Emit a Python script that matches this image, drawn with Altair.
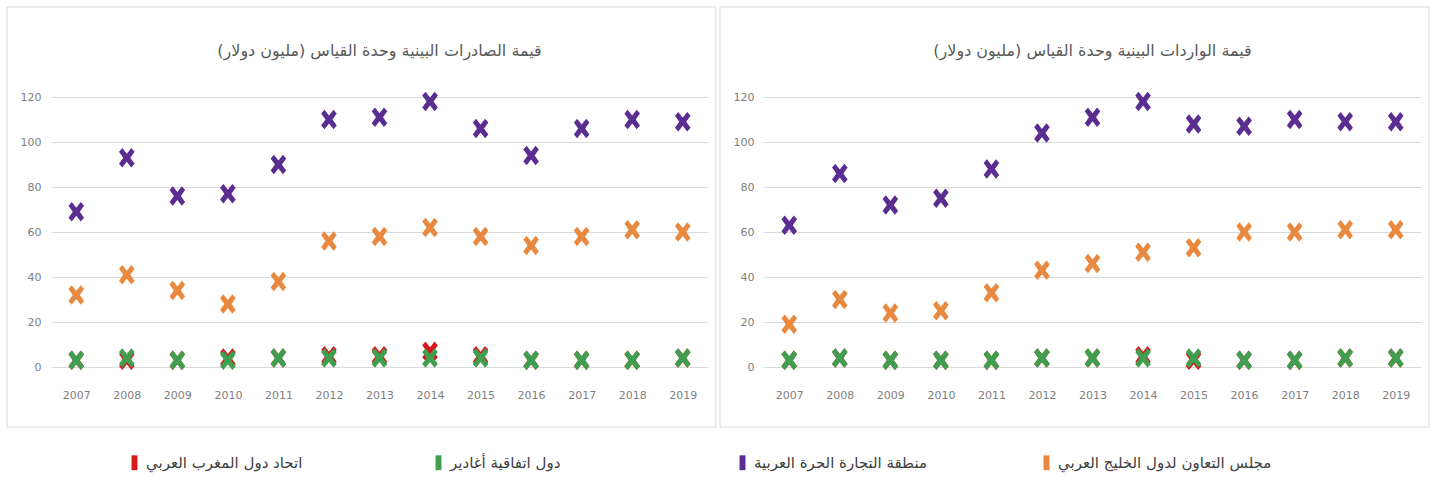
import altair as alt
import pandas as pd

# Years on the category axis
years = ["2007", "2008", "2009", "2010", "2011", "2012", "2013",
         "2014", "2015", "2016", "2017", "2018", "2019"]

# Series names (legend order, left to right)
s_amu = "اتحاد دول المغرب العربي"
s_agadir = "دول اتفاقية أغادير"
s_gafta = "منطقة التجارة الحرة العربية"
s_gcc = "مجلس التعاون لدول الخليج العربي"
series_names = [s_amu, s_agadir, s_gafta, s_gcc]
series_colors = ["#d7191c", "#3f9f4f", "#5b2d90", "#e8893f"]

# Intra-regional exports (million USD)
exp_gafta = [69, 93, 76, 77, 90, 110, 111, 118, 106, 94, 106, 110, 109]
exp_gcc = [32, 41, 34, 28, 38, 56, 58, 62, 58, 54, 58, 61, 60]
exp_amu = [3, 3, 3, 4, 4, 5, 5, 7, 5, 3, 3, 3, 4]
exp_agadir = [3, 4, 3, 3, 4, 4, 4, 4, 4, 3, 3, 3, 4]

# Intra-regional imports (million USD)
imp_gafta = [63, 86, 72, 75, 88, 104, 111, 118, 108, 107, 110, 109, 109]
imp_gcc = [19, 30, 24, 25, 33, 43, 46, 51, 53, 60, 60, 61, 61]
imp_amu = [3, 4, 3, 3, 3, 4, 4, 5, 3, 3, 3, 4, 4]
imp_agadir = [3, 4, 3, 3, 3, 4, 4, 4, 4, 3, 3, 4, 4]

title_exp = "قيمة الصادرات البينية وحدة القياس (مليون دولار)"
title_imp = "قيمة الواردات البينية وحدة القياس (مليون دولار)"

FONT = "DejaVu Sans"
W, H = 657, 270

# bold "x" marker, slightly taller than wide
X_PATH = ("M-0.8,-0.62 L-0.46,-1 L0,-0.42 L0.46,-1 L0.8,-0.62 L0.36,0 "
          "L0.8,0.62 L0.46,1 L0,0.42 L-0.46,1 L-0.8,0.62 L-0.36,0 Z")


def long_table(gafta, gcc, amu, agadir):
    rows = []
    # drawing order: purple, orange, red, green on top
    for rank, (name, vals) in enumerate(
            [(s_gafta, gafta), (s_gcc, gcc), (s_amu, amu), (s_agadir, agadir)]):
        for y, v in zip(years, vals):
            rows.append({"year": y, "series": name, "value": v, "rank": rank})
    return pd.DataFrame(rows)


def panel(df, title):
    frame = alt.Chart(pd.DataFrame({"k": [0]})).mark_rect(
        fillOpacity=0, stroke="#d9d9d9", strokeWidth=1
    ).encode(
        x=alt.value(-44), x2=alt.value(W + 8),
        y=alt.value(-90), y2=alt.value(H + 60),
    )
    pts = alt.Chart(df).mark_point(
        shape=X_PATH, filled=True, opacity=1, size=380
    ).encode(
        x=alt.X("year:O", sort=years, title=None,
                scale=alt.Scale(paddingInner=0, paddingOuter=0, align=0.5),
                axis=alt.Axis(labelAngle=0, labelFontSize=11, labelColor="#7f7f7f",
                              labelFont=FONT, domain=False, ticks=False,
                              labelPadding=22)),
        y=alt.Y("value:Q", title=None,
                scale=alt.Scale(domain=[0, 120], nice=False),
                axis=alt.Axis(values=[0, 20, 40, 60, 80, 100, 120], grid=True,
                              gridColor="#d9d9d9", domain=False, ticks=False,
                              labelFontSize=11, labelColor="#7f7f7f",
                              labelFont=FONT, labelPadding=10)),
        color=alt.Color("series:N",
                        scale=alt.Scale(domain=series_names, range=series_colors),
                        legend=alt.Legend(title=None)),
        order=alt.Order("rank:Q"),
    )
    return alt.layer(frame, pts).properties(
        width=W, height=H,
        title=alt.TitleParams(title, font=FONT, fontSize=16, fontWeight="normal",
                              color="#595959", offset=-52),
    )


left = panel(long_table(exp_gafta, exp_gcc, exp_amu, exp_agadir), title_exp)
right = panel(long_table(imp_gafta, imp_gcc, imp_amu, imp_agadir), title_imp)

chart = alt.hconcat(left, right, spacing=2).properties(
    padding={"left": 6, "top": 6, "right": 4, "bottom": 4},
    background="white",
).configure_view(
    stroke=None
).configure_legend(
    orient="none", direction="horizontal", legendX=76, legendY=358,
    columns=4, gridAlign="all", symbolType="M-0.4,-1H0.4V1H-0.4Z",
    symbolSize=220, symbolStrokeWidth=0,
    labelFont=FONT, labelFontSize=15, labelColor="#404040", labelLimit=400,
    columnPadding=71, symbolOffset=0,
)

chart.save("out.html", embed_options={"renderer": "svg", "actions": False})
